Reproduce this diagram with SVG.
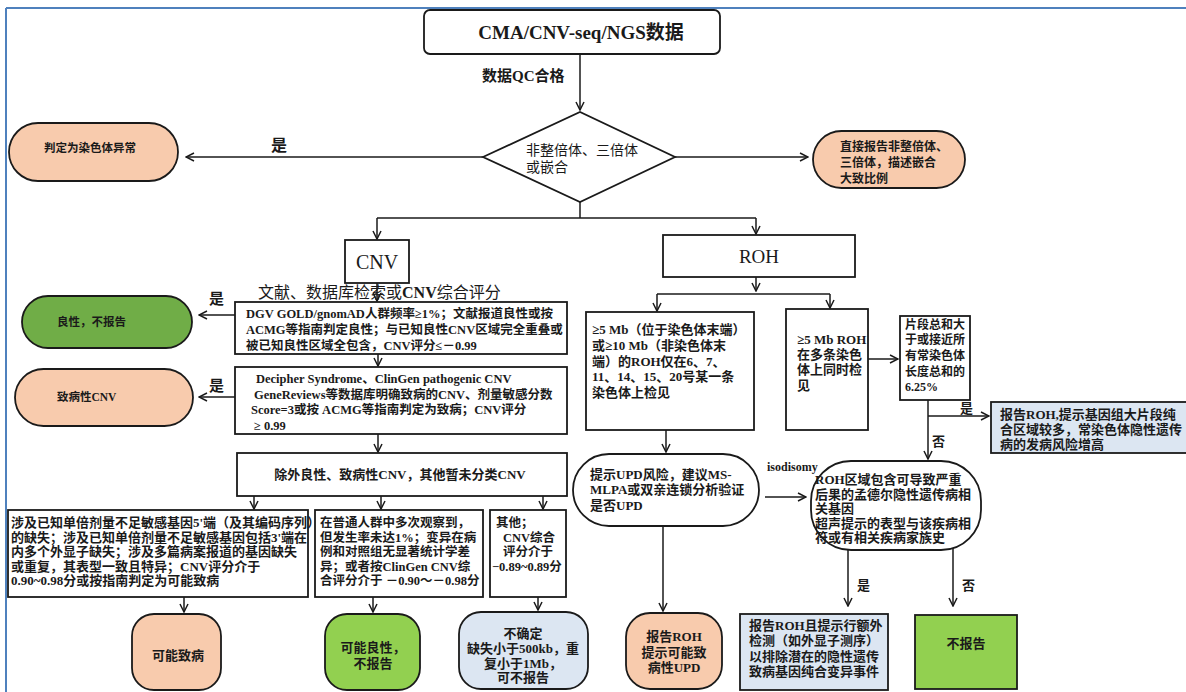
<svg xmlns="http://www.w3.org/2000/svg" width="1186" height="692" viewBox="0 0 1186 692">
<style>
.bg{fill:#ffffff}
.n{fill:#ffffff;stroke:#1a1a1a;stroke-width:1.8}
.pe{fill:#f8cbad;stroke:#1a1a1a;stroke-width:1.8}
.dg{fill:#70ad47;stroke:#1a1a1a;stroke-width:1.8}
.lg{fill:#92d050;stroke:#1a1a1a;stroke-width:1.8}
.lb{fill:#dce6f2;stroke:#1a1a1a;stroke-width:1.8}
.t{font-family:"Liberation Serif","Noto Sans CJK SC",serif;font-size:13px;font-weight:bold;fill:#1a1a1a}
.r{font-weight:normal}
.m{text-anchor:middle}
.c path,.c line{stroke:#1a1a1a;stroke-width:1.5;fill:none}
.a{marker-end:url(#ah)}
</style>
<defs>
<marker id="ah" viewBox="0 0 10 10" refX="9" refY="5" markerWidth="10" markerHeight="10" markerUnits="userSpaceOnUse" orient="auto">
<path d="M1,1 L9,5 L1,9" fill="none" stroke="#1a1a1a" stroke-width="1.5"/>
</marker>
</defs>
<rect class="bg" x="0" y="0" width="1186" height="692"/>
<g id="frame">
<line x1="6" y1="8" x2="1186" y2="8" stroke="#4f81bd" stroke-width="2"/>
<line x1="6" y1="8" x2="6" y2="692" stroke="#4f81bd" stroke-width="2"/>
</g>

<g class="c" id="connectors">
<path class="a" d="M580,54 V110"/>
<path class="a" d="M483,157 H186"/>
<path class="a" d="M675,157 H808"/>
<path d="M580,202 V218"/>
<path d="M377,218 H756"/>
<path class="a" d="M377,218 V239"/>
<path class="a" d="M756,218 V234"/>
<path class="a" d="M377,283 V301"/>
<path class="a" d="M235,315 H199"/>
<path class="a" d="M378,354 V366"/>
<path class="a" d="M235,397 H199"/>
<path class="a" d="M378,434 V452"/>
<path class="a" d="M254,496 V509"/>
<path class="a" d="M381,496 V509"/>
<path class="a" d="M543,496 V509"/>
<path class="a" d="M184,597 V612"/>
<path class="a" d="M373,597 V612"/>
<path class="a" d="M538,597 V610"/>
<path class="a" d="M756,277 V291"/>
<path d="M657,294 H830"/>
<path class="a" d="M657,294 V311"/>
<path class="a" d="M830,294 V308"/>
<path class="a" d="M868,359 H898"/>
<path class="a" d="M928,400 V459"/>
<path class="a" d="M928,416 H989"/>
<path class="a" d="M666,430 V452"/>
<path class="a" d="M765,497 H806"/>
<path class="a" d="M663,526 V611"/>
<path class="a" d="M848,550 V606"/>
<path class="a" d="M953,548 V606"/>
</g>

<g id="labels">
<text class="t" x="482" y="81" style="font-size:15px">数据QC合格</text>
<text class="t" x="271" y="151" style="font-size:16px">是</text>
<text class="t r" x="258" y="298" style="font-size:16px">文献、数据库检索或<tspan font-weight="bold">CNV</tspan>综合评分</text>
<text class="t" x="209" y="304" style="font-size:15px">是</text>
<text class="t" x="209" y="391" style="font-size:15px">是</text>
<text class="t" x="960" y="413">是</text>
<text class="t" x="932" y="446">否</text>
<text class="t" x="767" y="471" style="font-size:12px">isodisomy</text>
<text class="t" x="857" y="590">是</text>
<text class="t" x="962" y="590">否</text>
</g>

<g id="n-start">
<rect class="n" x="424" y="10" width="296" height="44" rx="6"/>
<text class="t m" x="581" y="39" style="font-size:19px">CMA/CNV-seq/NGS数据</text>
</g>
<g id="n-decision">
<polygon class="n" points="483,157 580,112 675,157 580,202"/>
<text class="t r" x="526" y="155" style="font-size:14px">非整倍体、三倍体</text>
<text class="t r" x="526" y="172" style="font-size:14px">或嵌合</text>
</g>
<g id="n-abnormal">
<rect class="pe" x="9" y="123" width="169" height="58" rx="29"/>
<text class="t m" x="90" y="152" style="font-size:11.5px">判定为染色体异常</text>
</g>
<g id="n-report-aneuploid">
<rect class="pe" x="813" y="131" width="152" height="57" rx="28.5"/>
<text class="t" x="840" y="151" style="font-size:12px">直接报告非整倍体、</text>
<text class="t" x="840" y="167" style="font-size:12px">三倍体，描述嵌合</text>
<text class="t" x="840" y="183" style="font-size:12px">大致比例</text>
</g>
<g id="n-cnv">
<rect class="n" x="345" y="240" width="64" height="43"/>
<text class="t r m" x="377" y="269" style="font-size:20px">CNV</text>
</g>
<g id="n-roh">
<rect class="n" x="663" y="235" width="192" height="42"/>
<text class="t r m" x="759" y="263" style="font-size:19px">ROH</text>
</g>
<g id="n-benign">
<rect class="dg" x="22" y="296" width="170" height="52" rx="26"/>
<text class="t" x="57" y="326" style="font-size:11.5px">良性，不报告</text>
</g>
<g id="n-dgv">
<rect class="n" x="235" y="302" width="332" height="52"/>
<text class="t" x="246" y="318" style="font-size:12.5px">DGV GOLD/gnomAD人群频率≥1%；文献报道良性或按</text>
<text class="t" x="246" y="334" style="font-size:12.5px">ACMG等指南判定良性；与已知良性CNV区域完全重叠或</text>
<text class="t" x="246" y="350" style="font-size:12.5px">被已知良性区域全包含，CNV评分≤－0.99</text>
</g>
<g id="n-pathogenic">
<rect class="pe" x="15" y="369" width="178" height="57" rx="28.5"/>
<text class="t" x="57" y="401" style="font-size:11.5px">致病性CNV</text>
</g>
<g id="n-decipher">
<rect class="n" x="235" y="367" width="332" height="67"/>
<text class="t" x="256" y="383" style="font-size:12.5px">Decipher Syndrome、ClinGen pathogenic CNV</text>
<text class="t" x="254" y="399" style="font-size:12.5px">GeneReviews等数据库明确致病的CNV、剂量敏感分数</text>
<text class="t" x="251" y="414" style="font-size:12.5px">Score=3或按 ACMG等指南判定为致病；CNV评分</text>
<text class="t" x="254" y="430" style="font-size:12.5px">≥ 0.99</text>
</g>
<g id="n-other">
<rect class="n" x="237" y="453" width="330" height="43"/>
<text class="t m" x="400" y="479">除外良性、致病性CNV，其他暂未分类CNV</text>
</g>
<g id="n-boxA">
<rect class="n" x="8" y="510" width="300" height="87"/>
<text class="t" x="11" y="527">涉及已知单倍剂量不足敏感基因5'端（及其编码序列）</text>
<text class="t" x="11" y="541.5">的缺失；涉及已知单倍剂量不足敏感基因包括3'端在</text>
<text class="t" x="11" y="556">内多个外显子缺失；涉及多篇病案报道的基因缺失</text>
<text class="t" x="11" y="570.5">或重复，其表型一致且特异；CNV评分介于</text>
<text class="t" x="11" y="585">0.90~0.98分或按指南判定为可能致病</text>
</g>
<g id="n-boxB">
<rect class="n" x="315" y="510" width="168" height="87"/>
<text class="t" x="320" y="527" style="font-size:12.5px">在普通人群中多次观察到，</text>
<text class="t" x="320" y="541.5" style="font-size:12.5px">但发生率未达1%；变异在病</text>
<text class="t" x="320" y="556" style="font-size:12.5px">例和对照组无显著统计学差</text>
<text class="t" x="320" y="570.5" style="font-size:12.5px">异；或者按ClinGen CNV综</text>
<text class="t" x="320" y="585" style="font-size:12.5px">合评分介于 －0.90～－0.98分</text>
</g>
<g id="n-boxC">
<rect class="n" x="490" y="510" width="76" height="87"/>
<text class="t" x="496" y="527" style="font-size:12.5px">其他；</text>
<text class="t" x="503" y="541.5" style="font-size:12.5px">CNV综合</text>
<text class="t" x="503" y="556" style="font-size:12.5px">评分介于</text>
<text class="t" x="492" y="570.5" style="font-size:12.5px">−0.89~0.89分</text>
</g>
<g id="n-likely-path">
<rect class="pe" x="132" y="614" width="89" height="76" rx="22"/>
<text class="t m" x="178" y="660">可能致病</text>
</g>
<g id="n-likely-benign">
<rect class="lg" x="325" y="614" width="95" height="76" rx="22"/>
<text class="t m" x="373" y="652">可能良性，</text>
<text class="t m" x="373" y="668">不报告</text>
</g>
<g id="n-uncertain">
<rect class="lb" x="459" y="612" width="129" height="77" rx="22"/>
<text class="t m" x="523" y="638">不确定</text>
<text class="t m" x="523" y="653">缺失小于500kb，重</text>
<text class="t m" x="523" y="668">复小于1Mb，</text>
<text class="t m" x="523" y="682">可不报告</text>
</g>
<g id="n-roh-single">
<rect class="n" x="586" y="312" width="168" height="118"/>
<text class="t" x="592" y="334">≥5 Mb（位于染色体末端）</text>
<text class="t" x="592" y="350">或≥10 Mb（非染色体末</text>
<text class="t" x="592" y="366">端）的ROH仅在6、7、</text>
<text class="t" x="592" y="381">11、14、15、20号某一条</text>
<text class="t" x="592" y="397">染色体上检见</text>
</g>
<g id="n-roh-multi">
<rect class="n" x="786" y="309" width="82" height="121"/>
<text class="t" x="797" y="344">≥5 Mb ROH</text>
<text class="t" x="797" y="359">在多条染色</text>
<text class="t" x="797" y="374">体上同时检</text>
<text class="t" x="797" y="390">见</text>
</g>
<g id="n-sum">
<rect class="n" x="900" y="316" width="70" height="84"/>
<text class="t" x="905" y="329" style="font-size:12px">片段总和大</text>
<text class="t" x="905" y="344" style="font-size:12px">于或接近所</text>
<text class="t" x="905" y="360" style="font-size:12px">有常染色体</text>
<text class="t" x="905" y="376" style="font-size:12px">长度总和的</text>
<text class="t" x="905" y="391" style="font-size:12px">6.25%</text>
</g>
<g id="n-report-roh-large">
<rect class="lb" x="991" y="402" width="196" height="51"/>
<text class="t" x="1000" y="419">报告ROH,提示基因组大片段纯</text>
<text class="t" x="1000" y="434">合区域较多，常染色体隐性遗传</text>
<text class="t" x="1000" y="449">病的发病风险增高</text>
</g>
<g id="n-upd">
<rect class="n" x="573" y="454" width="186" height="72" rx="36"/>
<text class="t" x="590" y="479">提示UPD风险，建议MS-</text>
<text class="t" x="590" y="494">MLPA或双亲连锁分析验证</text>
<text class="t" x="590" y="510">是否UPD</text>
</g>
<g id="n-roh-gene">
<rect class="n" x="811" y="461" width="170" height="89" rx="40"/>
<text class="t" x="815" y="484">ROH区域包含可导致严重</text>
<text class="t" x="815" y="498.5">后果的孟德尔隐性遗传病相</text>
<text class="t" x="815" y="513">关基因</text>
<text class="t" x="815" y="527.5">超声提示的表型与该疾病相</text>
<text class="t" x="815" y="542">符或有相关疾病家族史</text>
</g>
<g id="n-report-upd">
<rect class="pe" x="626" y="613" width="96" height="76" rx="24"/>
<text class="t m" x="674" y="641">报告ROH</text>
<text class="t m" x="674" y="657">提示可能致</text>
<text class="t m" x="674" y="672">病性UPD</text>
</g>
<g id="n-report-extra">
<rect class="lb" x="740" y="614" width="148" height="76"/>
<text class="t" x="749" y="630">报告ROH且提示行额外</text>
<text class="t" x="749" y="645">检测（如外显子测序）</text>
<text class="t" x="749" y="661">以排除潜在的隐性遗传</text>
<text class="t" x="749" y="676">致病基因纯合变异事件</text>
</g>
<g id="n-no-report">
<rect class="lg" x="915" y="615" width="102" height="74"/>
<text class="t m" x="966" y="648">不报告</text>
</g>
</svg>
